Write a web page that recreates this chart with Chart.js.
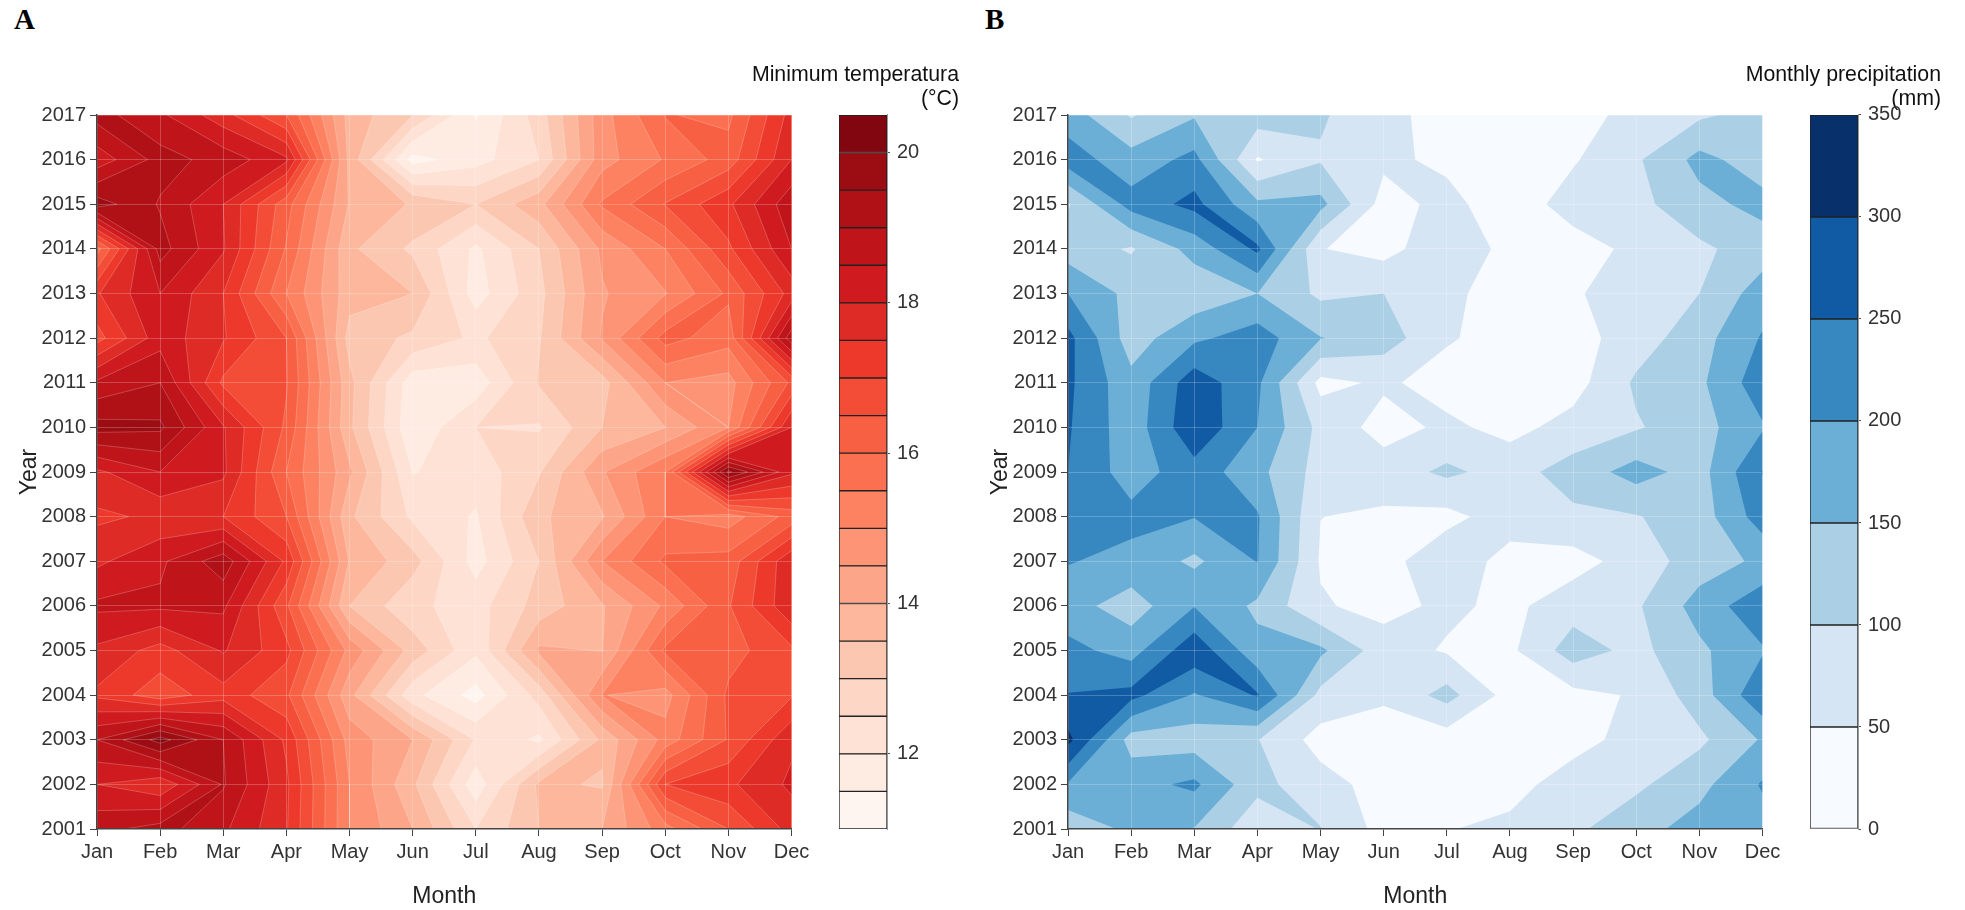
<!DOCTYPE html>
<html>
<head>
<meta charset="utf-8">
<title>Contours</title>
<script src="https://cdn.jsdelivr.net/npm/chart.js@4/dist/chart.umd.min.js"></script>
<style>
    html, body { margin: 0; padding: 0; background: #fff; }
    body { position: relative; width: 1965px; height: 910px; overflow: hidden; }
    canvas { position: absolute; top: 0; }
    .tag { position: absolute; top: 3px; font: bold 29px "Liberation Serif", serif; color: #000; }
</style>
</head>
<body>
<div class="tag" style="left:14px">A</div>
<div class="tag" style="left:985px">B</div>
<canvas id="panelA" style="left:0;width:820px;height:910px"></canvas>
<canvas id="barA" style="left:740px;width:219px;height:910px"></canvas>
<canvas id="panelB" style="left:971px;width:820px;height:910px"></canvas>
<canvas id="barB" style="left:1740px;width:201px;height:910px"></canvas>
<script>
// Ejes
const monthLabels = ['Jan', 'Feb', 'Mar', 'Apr', 'May', 'Jun', 'Jul', 'Aug', 'Sep', 'Oct', 'Nov', 'Dec'];
const yearLabels = [2001, 2002, 2003, 2004, 2005, 2006, 2007, 2008, 2009, 2010, 2011, 2012, 2013, 2014, 2015, 2016, 2017];

// Temperatura minima, una fila por año (2001 -> 2017), Jan..Dec
const tminRows = [
    [18.85, 19.2, 18.6, 17.55, 15.0, 14.0, 12.5, 13.5, 14.0, 15.3, 16.5, 17.7],
    [18.0, 17.6, 19.05, 17.6, 15.0, 13.6, 11.7, 13.6, 13.45, 17.0, 17.4, 18.1],
    [19.0, 20.2, 19.0, 17.4, 14.8, 14.0, 12.45, 11.9, 13.6, 15.2, 16.55, 17.9],
    [17.4, 16.7, 17.3, 16.6, 14.15, 12.15, 11.3, 12.7, 15.02, 14.8, 16.6, 16.95],
    [17.9, 17.3, 18.05, 17.15, 14.85, 13.3, 12.1, 14.1, 13.98, 16.1, 16.3, 16.9],
    [18.6, 18.6, 18.6, 16.6, 13.5, 12.6, 12.3, 13.2, 13.95, 15.1, 16.45, 17.9],
    [17.9, 18.4, 19.3, 17.4, 13.95, 13.2, 11.8, 13.0, 15.0, 16.1, 16.2, 17.9],
    [17.4, 17.6, 17.5, 16.5, 13.6, 12.4, 11.95, 13.4, 13.95, 15.5, 15.25, 16.2],
    [17.9, 18.5, 18.1, 16.0, 14.1, 11.98, 12.2, 12.95, 14.45, 15.5, 20.1, 18.1],
    [19.7, 19.6, 18.05, 16.4, 13.6, 11.6, 12.5, 12.45, 13.5, 14.0, 15.0, 18.0],
    [18.6, 19.0, 16.9, 16.55, 13.65, 11.7, 11.7, 13.05, 13.3, 15.0, 14.8, 16.6],
    [16.8, 18.3, 17.55, 16.5, 13.3, 12.9, 12.4, 12.95, 14.55, 16.2, 15.7, 19.3],
    [17.45, 18.5, 17.5, 15.5, 13.7, 13.5, 11.77, 12.85, 14.45, 14.97, 16.1, 17.7],
    [15.8, 19.2, 18.05, 15.95, 13.6, 12.9, 11.9, 13.0, 14.6, 15.5, 16.9, 18.5],
    [19.75, 18.95, 18.0, 16.2, 13.95, 13.45, 13.0, 13.85, 15.57, 16.53, 17.4, 18.85],
    [18.2, 19.2, 18.8, 18.1, 13.85, 11.3, 11.8, 12.5, 14.8, 15.55, 16.23, 18.0],
    [19.2, 18.6, 17.7, 16.5, 13.8, 13.0, 11.45, 12.75, 14.8, 16.03, 15.88, 17.7]
];

// Precipitacion mensual, mismo orden
const precipRows = [
    [117, 160, 148, 65, 102, 32, 48, 60, 90, 132, 170, 180],
    [195, 183, 210, 115, 70, 30, 20, 35, 70, 90, 135, 205],
    [315, 128, 125, 102, 30, 25, 25, 20, 35, 65, 90, 155],
    [252, 265, 195, 255, 85, 58, 118, 30, 35, 55, 125, 240],
    [215, 180, 285, 165, 160, 72, 45, 40, 125, 85, 140, 195],
    [170, 125, 198, 140, 55, 35, 60, 38, 78, 93, 170, 235],
    [203, 185, 140, 202, 45, 32, 85, 30, 30, 72, 125, 160],
    [230, 215, 202, 205, 50.5, 42, 35, 75, 90, 97, 125, 225],
    [250, 175, 230, 165, 80, 75, 110, 80, 122, 170, 130, 252],
    [255, 170, 290, 200, 85, 30, 60, 35, 68, 95, 130, 195],
    [260, 165, 280, 210, 35, 58, 30, 25, 30, 108, 140, 230],
    [265, 125, 190, 225, 152, 125, 55, 30, 30, 75, 130, 205],
    [200, 135, 115, 150, 90, 100, 60, 30, 45, 72, 100, 175],
    [125, 95, 168, 260, 52, 32, 85, 35, 28, 62, 90, 125],
    [95, 220, 265, 160, 165, 30, 65, 20, 72, 85, 135, 165],
    [225, 170, 215, 45, 95, 60, 40, 30, 45, 93, 165, 125],
    [175, 95, 145, 125, 106, 65, 30, 20, 35, 62, 92, 118]
];

// Niveles y colores de las bandas
const tminLevels = [11, 11.5, 12, 12.5, 13, 13.5, 14, 14.5, 15, 15.5, 16, 16.5, 17, 17.5, 18, 18.5, 19, 19.5, 20, 20.5];
const tminColors = ['#fff5f0', '#feece3', '#fee2d5', '#fdd6c5', '#fcc7b1', '#fcb79c', '#fca588', '#fc9475', '#fc8262', '#fb7050',
    '#f76043', '#f34d37', '#ed392b', '#de2b25', '#cf1b1f', '#bf151a', '#af1117', '#9b0c13', '#810610'];
const tminTicks = [12, 14, 16, 18, 20];

const precipLevels = [0, 50, 100, 150, 200, 250, 300, 350];
const precipColors = ['#f7fbff', '#d6e5f4', '#abd0e6', '#6baed6', '#3787c0', '#105ba4', '#08306b'];
const precipTicks = [0, 50, 100, 150, 200, 250, 300, 350];

const FONT = '"Liberation Sans", Arial, sans-serif';
Chart.defaults.font.family = FONT;
Chart.defaults.devicePixelRatio = 1;
Chart.defaults.animation = false;
Chart.defaults.responsive = false;

// Recorta un poligono [x, y, v] a v >= level (Sutherland-Hodgman)
function clipAbove(poly, level) {
    const out = [];
    for (let i = 0; i < poly.length; i++) {
        const a = poly[i];
        const b = poly[(i + 1) % poly.length];
        const aIn = a[2] >= level;
        const bIn = b[2] >= level;
        if (aIn) out.push(a);
        if (aIn !== bIn) {
            const t = (level - a[2]) / (b[2] - a[2]);
            out.push([a[0] + t * (b[0] - a[0]), a[1] + t * (b[1] - a[1]), level]);
        }
    }
    return out;
}

// Plugin: rellena las bandas a partir de la rejilla, usando las escalas del chart
const contourPlugin = {
    id: 'contourBands',
    beforeDatasetsDraw(chart, args, opts) {
        const { ctx, chartArea, scales } = chart;
        const rows = opts.rows;
        const px = v => scales.x.getPixelForValue(v);
        const py = v => scales.y.getPixelForValue(v);
        ctx.save();
        ctx.beginPath();
        ctx.rect(chartArea.left, chartArea.top, chartArea.right - chartArea.left, chartArea.bottom - chartArea.top);
        ctx.clip();
        ctx.fillStyle = opts.colors[0];
        ctx.fillRect(chartArea.left, chartArea.top, chartArea.right - chartArea.left, chartArea.bottom - chartArea.top);
        for (let k = 1; k < opts.colors.length; k++) {
            const level = opts.levels[k];
            const fillPath = new Path2D();
            const linePath = new Path2D();
            for (let r = 0; r < rows.length - 1; r++) {
                for (let c = 0; c < monthLabels.length - 1; c++) {
                    const cell = [
                        [px(c), py(yearLabels[r]), rows[r][c]],
                        [px(c + 1), py(yearLabels[r]), rows[r][c + 1]],
                        [px(c + 1), py(yearLabels[r + 1]), rows[r + 1][c + 1]],
                        [px(c), py(yearLabels[r + 1]), rows[r + 1][c]]
                    ];
                    const poly = clipAbove(cell, level);
                    if (poly.length < 3) continue;
                    poly.forEach((p, i) => {
                        if (i === 0) fillPath.moveTo(p[0], p[1]);
                        else fillPath.lineTo(p[0], p[1]);
                        const q = poly[(i + 1) % poly.length];
                        if (p[2] === level && q[2] === level) {
                            linePath.moveTo(p[0], p[1]);
                            linePath.lineTo(q[0], q[1]);
                        }
                    });
                    fillPath.closePath();
                }
            }
            ctx.fillStyle = opts.colors[k];
            ctx.fill(fillPath);
            if (opts.lineColor) {
                ctx.strokeStyle = opts.lineColor;
                ctx.lineWidth = 0.8;
                ctx.stroke(linePath);
            }
        }
        ctx.restore();
    }
};

function makePanel(id, rows, levels, colors, lineColor) {
    const points = [];
    rows.forEach((row, r) => row.forEach((v, c) => points.push({ x: c, y: yearLabels[r], v })));
    const grid = { color: 'rgba(255,255,255,0.22)', lineWidth: 1, tickColor: '#444', tickLength: 7, z: 1 };
    const border = { color: '#444', width: 1.5, z: 2 };
    return new Chart(document.getElementById(id), {
        type: 'scatter',
        data: { datasets: [{ data: points, pointRadius: 0, showLine: false }] },
        plugins: [contourPlugin],
        options: {
            layout: { autoPadding: false, padding: { top: 115, right: 28.5, left: 0, bottom: 0 } },
            plugins: {
                legend: { display: false },
                tooltip: { enabled: false },
                contourBands: { rows, levels, colors, lineColor }
            },
            scales: {
                x: {
                    type: 'linear', min: 0, max: 11,
                    afterFit(s) { s.height = 81; },
                    grid, border,
                    ticks: { stepSize: 1, autoSkip: false, maxRotation: 0, color: '#333', padding: 4, font: { size: 20 }, callback: v => monthLabels[v] },
                    title: { display: true, text: 'Month', color: '#222', font: { size: 23 }, padding: { top: 0, bottom: 0 } }
                },
                y: {
                    type: 'linear', min: yearLabels[0], max: yearLabels[yearLabels.length - 1],
                    afterFit(s) { s.width = 97; },
                    grid, border,
                    ticks: { stepSize: 1, autoSkip: false, color: '#333', padding: 4, font: { size: 20 }, callback: v => String(v) },
                    title: { display: true, text: 'Year', color: '#222', font: { size: 23 }, padding: { top: 16, bottom: 0 } }
                }
            }
        }
    });
}

// La escala "spacer" solo reserva el hueco a la izquierda, asi el titulo usa todo el ancho
function makeColorbar(id, titleLines, levels, colors, tickValues, leftPad, axisWidth) {
    const datasets = colors.map((c, i) => ({
        data: [[levels[i], levels[i + 1]]],
        yAxisID: 'y',
        backgroundColor: c,
        borderColor: '#222',
        borderWidth: 1,
        borderSkipped: false,
        barPercentage: 1,
        categoryPercentage: 1
    }));
    return new Chart(document.getElementById(id), {
        type: 'bar',
        data: { labels: [''], datasets },
        options: {
            layout: { autoPadding: false, padding: 0 },
            plugins: {
                legend: { display: false },
                tooltip: { enabled: false },
                title: {
                    display: true, text: titleLines, align: 'end', color: '#111',
                    font: { size: 21.3, weight: 'normal', lineHeight: 1.14 },
                    padding: { top: 63, bottom: 3.4 }
                }
            },
            scales: {
                x: {
                    stacked: true,
                    afterFit(s) { s.height = 81; },
                    grid: { display: false },
                    border: { display: false },
                    ticks: { display: false }
                },
                spacer: {
                    axis: 'y', position: 'left',
                    afterFit(s) { s.width = leftPad; },
                    grid: { display: false },
                    border: { display: false },
                    ticks: { display: false }
                },
                y: {
                    position: 'right',
                    min: levels[0], max: levels[levels.length - 1],
                    afterFit(s) { s.width = axisWidth; },
                    afterBuildTicks(s) { s.ticks = tickValues.map(value => ({ value })); },
                    grid: { drawOnChartArea: false, tickLength: 3, tickColor: '#555' },
                    border: { color: '#999', width: 1 },
                    ticks: { color: '#333', padding: 7, font: { size: 20 }, autoSkip: false }
                }
            }
        }
    });
}

makePanel('panelA', tminRows, tminLevels, tminColors, 'rgba(255,255,255,0.28)');
makeColorbar('barA', ['Minimum temperatura', '(°C)'], tminLevels, tminColors, tminTicks, 99, 72);
makePanel('panelB', precipRows, precipLevels, precipColors, null);
makeColorbar('barB', ['Monthly precipitation', '(mm)'], precipLevels, precipColors, precipTicks, 70, 83);
</script>
</body>
</html>
